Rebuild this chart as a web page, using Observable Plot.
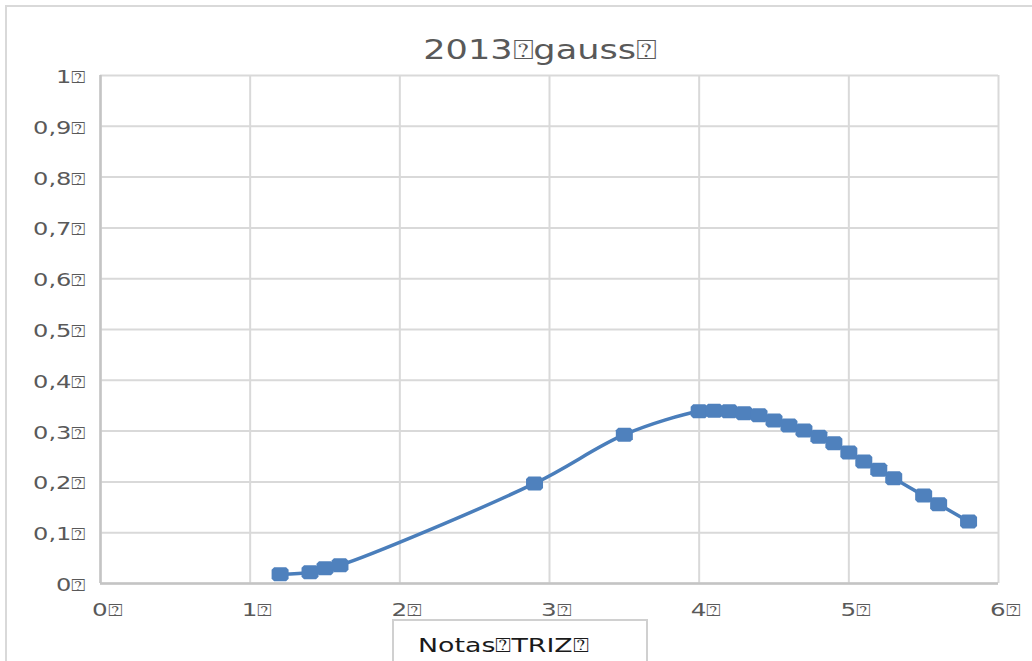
<!DOCTYPE html>
<html>
<head>
<meta charset="utf-8">
<script src="https://cdn.jsdelivr.net/npm/d3@7"></script>
<script src="https://cdn.jsdelivr.net/npm/@observablehq/plot@0.6"></script>
<style>
  html, body { margin: 0; padding: 0; background: #fff; }
  #wrap { position: relative; width: 1032px; height: 661px; overflow: hidden; font-family: "DejaVu Sans", sans-serif; }
  #frame { position: absolute; left: 5px; top: 5px; width: 1060px; height: 700px; border: 2px solid #d9d9d9; box-sizing: border-box; }
  #chart { position: absolute; left: 0; top: 0; }
  #title { position: absolute; top: 34px; left: 0; width: 1080px; text-align: center; font-size: 27px; color: #595959; transform: scaleX(1.3); transform-origin: 540px 0; white-space: nowrap; }
  #legend { position: absolute; left: 392px; top: 619px; width: 256px; height: 60px; border: 2px solid #d0d0d0; box-sizing: border-box; }
  #legend span { position: absolute; left: 24px; top: 12px; font-size: 20px; color: #1a1a1a; white-space: nowrap; transform: scaleX(1.34); transform-origin: 0 0; display: inline-block; }
</style>
</head>
<body>
<div id="wrap">
  <div id="frame"></div>
  <div id="chart"></div>
  <div id="title"></div>
  <div id="legend"><span></span></div>
</div>
<script>
const T = "\u2370";
const titleText = "2013" + T + "gauss" + T;
const legendText = "Notas" + T + "TRIZ" + T;

const xValues = [1.2, 1.4, 1.5, 1.6, 2.9, 3.5, 4.0, 4.1, 4.2, 4.3, 4.4, 4.5, 4.6, 4.7, 4.8, 4.9, 5.0, 5.1, 5.2, 5.3, 5.5, 5.6, 5.8];
const yValues = [0.018, 0.022, 0.030, 0.036, 0.197, 0.293, 0.339, 0.340, 0.339, 0.335, 0.331, 0.321, 0.311, 0.301, 0.289, 0.276, 0.258, 0.240, 0.224, 0.207, 0.173, 0.156, 0.122];

const xTicks = [0, 1, 2, 3, 4, 5, 6];
const xTickLabels = ["0" + T, "1" + T, "2" + T, "3" + T, "4" + T, "5" + T, "6" + T];
const yTicks = [0, 0.1, 0.2, 0.3, 0.4, 0.5, 0.6, 0.7, 0.8, 0.9, 1];
const yTickLabels = ["0" + T, "0,1" + T, "0,2" + T, "0,3" + T, "0,4" + T, "0,5" + T, "0,6" + T, "0,7" + T, "0,8" + T, "0,9" + T, "1" + T];

const data = xValues.map((x, i) => ({x, y: yValues[i]}));

const marker = {
  draw(ctx, size) {
    const w = 8.5, h = 7, c = 2.5;
    ctx.moveTo(-w + c, -h);
    ctx.lineTo(w - c, -h);
    ctx.lineTo(w, -h + c);
    ctx.lineTo(w, h - c);
    ctx.lineTo(w - c, h);
    ctx.lineTo(-w + c, h);
    ctx.lineTo(-w, h - c);
    ctx.lineTo(-w, -h + c);
    ctx.closePath();
  }
};

document.getElementById("title").textContent = titleText;
document.querySelector("#legend span").textContent = legendText;

const chart = Plot.plot({
  width: 1032,
  height: 661,
  marginLeft: 100,
  marginRight: 34,
  marginTop: 75,
  marginBottom: 78,
  style: {fontFamily: "DejaVu Sans", fontSize: "17px", color: "#595959", background: "transparent", overflow: "visible"},
  x: {domain: [0, 6]},
  y: {domain: [0, 1]},
  marks: [
    Plot.gridX(xTicks, {stroke: "#d9d9d9", strokeWidth: 2, strokeOpacity: 1}),
    Plot.gridY(yTicks, {stroke: "#d9d9d9", strokeWidth: 2, strokeOpacity: 1}),
    Plot.ruleX([0], {stroke: "#c4c4c4", strokeWidth: 2.5}),
    Plot.ruleY([0], {stroke: "#c4c4c4", strokeWidth: 2.5}),
    Plot.axisX({ticks: xTicks, tickSize: 0, tickPadding: 20, tickFormat: d => xTickLabels[xTicks.indexOf(d)], fill: "#595959", fontSize: 17, label: null, dx: 7}),
    Plot.axisY({ticks: yTicks, tickSize: 0, tickPadding: 14, tickFormat: d => yTickLabels[yTicks.indexOf(d)], fill: "#595959", fontSize: 17, label: null, dy: 2}),
    Plot.line(data, {x: "x", y: "y", curve: "catmull-rom", stroke: "#4a7ebb", strokeWidth: 3.5}),
    Plot.dot(data, {x: "x", y: "y", symbol: marker, fill: "#4f81bd", stroke: "none", r: 8})
  ]
});
document.getElementById("chart").appendChild(chart);

function stretch(sel, k) {
  d3.select(chart).selectAll(sel).each(function () {
    const el = d3.select(this);
    const t = el.attr("transform") || "";
    el.attr("transform", `${t} scale(${k},1)`);
  });
}
stretch('g[aria-label="y-axis tick label"] text', 1.42);
stretch('g[aria-label="x-axis tick label"] text', 1.45);
</script>
</body>
</html>
